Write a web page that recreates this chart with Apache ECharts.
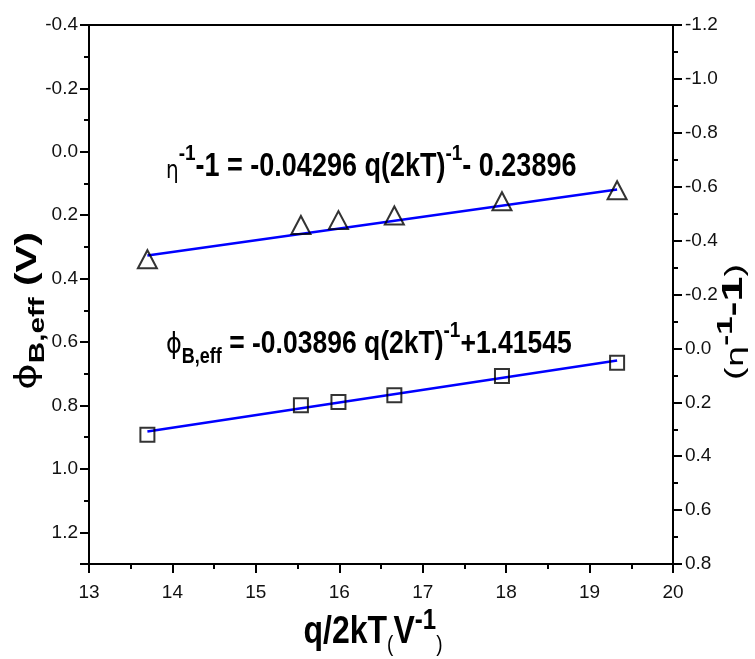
<!DOCTYPE html>
<html>
<head>
<meta charset="utf-8">
<script src="https://cdn.jsdelivr.net/npm/echarts@6/dist/echarts.min.js"></script>
<style>html,body{margin:0;padding:0;background:#fff}#c{width:755px;height:659px}</style>
</head>
<body>
<div id="c"></div>
<script>
// Data
const xValues = [13.70, 15.54, 15.99, 16.66, 17.95, 19.33];
const phiValues = [0.892, 0.799, 0.789, 0.768, 0.707, 0.665];      // left axis, squares
const etaValues = [-0.331, -0.458, -0.476, -0.493, -0.546, -0.587]; // right axis, triangles
const phiFitX = [13.70, 19.33];
const phiFitY = [0.882, 0.658];
const etaFitX = [13.70, 19.33];
const etaFitY = [-0.345, -0.590];
const xTicks = [13, 14, 15, 16, 17, 18, 19, 20];

const F = '"Liberation Sans Narrow", "Arial Narrow", "Liberation Sans", Arial, sans-serif';
const chart = echarts.init(document.getElementById('c'));
const pair = (xs, ys) => xs.map((x, i) => [x, ys[i]]);

const bold = (s, lh) => ({fontFamily: F, fontSize: s, fontWeight: 'bold', color: '#000', lineHeight: lh});

chart.setOption({
  animation: false,
  backgroundColor: '#fff',
  grid: {left: 89, right: 82, top: 25, bottom: 95, show: true, borderColor: '#000', borderWidth: 2, backgroundColor: 'transparent'},
  xAxis: {
    type: 'value', min: xTicks[0], max: xTicks[xTicks.length - 1], interval: 1,
    axisLine: {onZero: false, lineStyle: {color: '#000', width: 2}},
    axisTick: {length: 9, lineStyle: {color: '#000', width: 2}},
    minorTick: {show: true, splitNumber: 2, length: 5, lineStyle: {color: '#000', width: 2}},
    splitLine: {show: false},
    axisLabel: {fontFamily: F, fontSize: 19, color: '#111', margin: 19}
  },
  yAxis: [{
    type: 'value', min: -0.4, max: 1.3, interval: 0.2, inverse: true,
    axisLine: {show: true, onZero: false, lineStyle: {color: '#000', width: 2}},
    axisTick: {show: true, length: 9, lineStyle: {color: '#000', width: 2}},
    minorTick: {show: true, splitNumber: 2, length: 5, lineStyle: {color: '#000', width: 2}},
    splitLine: {show: false},
    axisLabel: {fontFamily: F, fontSize: 19, color: '#111', margin: 11, showMaxLabel: false,
      formatter: v => v.toFixed(1)}
  }, {
    type: 'value', min: -1.2, max: 0.8, interval: 0.2, inverse: true, position: 'right',
    axisLine: {show: true, onZero: false, lineStyle: {color: '#000', width: 2}},
    axisTick: {show: true, length: 9, lineStyle: {color: '#000', width: 2}},
    minorTick: {show: true, splitNumber: 2, length: 5, lineStyle: {color: '#000', width: 2}},
    splitLine: {show: false},
    axisLabel: {fontFamily: F, fontSize: 19, color: '#111', margin: 12,
      formatter: v => v.toFixed(1)}
  }],
  series: [
    {type: 'line', yAxisIndex: 1, data: pair(etaFitX, etaFitY), showSymbol: false, symbol: 'none',
     lineStyle: {color: '#0000ff', width: 2.5}, z: 2},
    {type: 'line', yAxisIndex: 0, data: pair(phiFitX, phiFitY), showSymbol: false, symbol: 'none',
     lineStyle: {color: '#0000ff', width: 2.5}, z: 2},
    {type: 'scatter', yAxisIndex: 1, data: pair(xValues, etaValues), symbol: 'triangle', symbolSize: [19, 18],
     itemStyle: {color: 'rgba(0,0,0,0)', borderColor: '#000', borderWidth: 2}, z: 3},
    {type: 'scatter', yAxisIndex: 0, data: pair(xValues, phiValues), symbol: 'rect', symbolSize: 14,
     itemStyle: {color: 'rgba(0,0,0,0)', borderColor: '#000', borderWidth: 2}, z: 3}
  ],
  graphic: [
    { // eta equation
      type: 'text', x: 166, y: 163, scaleY: 1.2,
      style: {
        text: '{eta|η}{sup|-1}{m|-1 = -0.04296 q(2kT)}{sup|-1}{m|- 0.23896}',
        align: 'left', verticalAlign: 'middle',
        rich: {
          eta: {fontFamily: 'DejaVu Sans', fontSize: 20, color: '#000', lineHeight: 34, verticalAlign: 'bottom'},
          sup: Object.assign(bold(19, 18), {verticalAlign: 'top'}),
          m: Object.assign(bold(27, 34), {verticalAlign: 'bottom'})
        }
      }
    },
    { // phi equation
      type: 'text', x: 166, y: 340, scaleY: 1.2,
      style: {
        text: '{phi|ϕ}{sub|B,eff}{m| = -0.03896 q(2kT)}{sup|-1}{m|+1.41545}',
        align: 'left', verticalAlign: 'middle',
        rich: {
          phi: {fontFamily: 'DejaVu Sans', fontSize: 24, color: '#000', lineHeight: 34, verticalAlign: 'bottom'},
          sub: Object.assign(bold(18, 18), {verticalAlign: 'bottom', padding: [0, 0, -6, 0]}),
          sup: Object.assign(bold(19, 18), {verticalAlign: 'top'}),
          m: Object.assign(bold(26.5, 34), {verticalAlign: 'bottom'})
        }
      }
    },
    { // x title
      type: 'text', x: 373, y: 629, scaleY: 1.2,
      style: {
        text: '{m|q/2kT}{p|(}{m|V}{sup|-1}{p|)}',
        align: 'center', verticalAlign: 'middle',
        rich: {
          m: Object.assign(bold(32, 38), {verticalAlign: 'bottom'}),
          p: {fontFamily: F, fontSize: 19, color: '#000', lineHeight: 24, verticalAlign: 'bottom', padding: [0,0,-4,0]},
          sup: Object.assign(bold(24, 22), {verticalAlign: 'top'})
        }
      }
    },
    { // left title
      type: 'text', x: 24, y: 311, rotation: Math.PI / 2, scaleX: 1.35,
      style: {
        text: '{phi|ϕ}{sub|B,eff}{m| (V)}',
        align: 'center', verticalAlign: 'middle',
        rich: {
          phi: {fontFamily: 'DejaVu Sans', fontSize: 30, color: '#000', lineHeight: 38, verticalAlign: 'bottom'},
          sub: Object.assign(bold(22, 22), {verticalAlign: 'bottom', padding: [0,0,-6,0]}),
          m: Object.assign(bold(30, 38), {verticalAlign: 'bottom'})
        }
      }
    },
    { // right title
      type: 'text', x: 732, y: 322, rotation: Math.PI / 2, scaleX: 1.5,
      style: {
        text: '{p|(}{eta|η}{sup|-1}{m|-1}{p|)}',
        align: 'center', verticalAlign: 'middle',
        rich: {
          p: {fontFamily: F, fontSize: 25, color: '#000', lineHeight: 34, verticalAlign: 'bottom'},
          eta: {fontFamily: 'DejaVu Sans', fontSize: 23, color: '#000', lineHeight: 34, verticalAlign: 'bottom'},
          sup: Object.assign(bold(22, 20), {verticalAlign: 'top'}),
          m: Object.assign(bold(30, 34), {verticalAlign: 'bottom'})
        }
      }
    }
  ]
});
</script>
</body>
</html>
